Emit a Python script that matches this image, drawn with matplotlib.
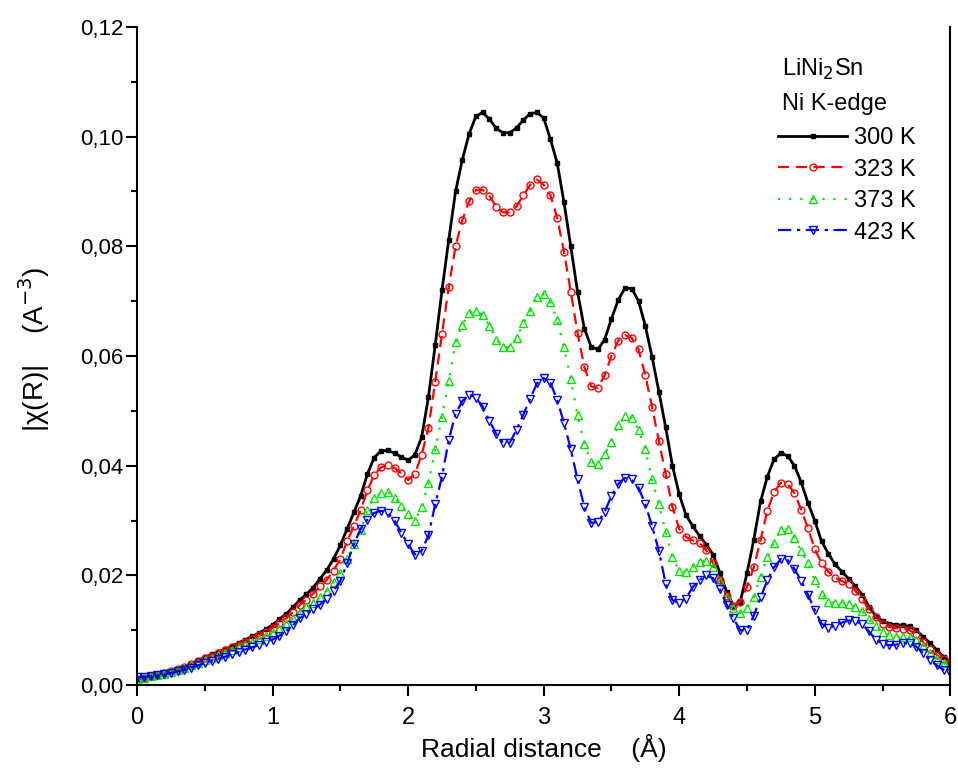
import numpy as np
import matplotlib
matplotlib.use("Agg")
import matplotlib.pyplot as plt
from matplotlib.ticker import MultipleLocator, FuncFormatter

# radial distance grid (Angstrom), one point every 0.05
r = np.round(np.arange(0, 6.001, 0.05), 2)

chi_300 = [0.0012, 0.0014, 0.0017, 0.0019, 0.0022, 0.0025, 0.0029, 0.0034, 0.0039, 0.0045,
           0.0051, 0.0056, 0.0061, 0.0066, 0.0071, 0.0077, 0.0083, 0.0089, 0.0095, 0.0102,
           0.0110, 0.0120, 0.0130, 0.0142, 0.0155, 0.0166, 0.0178, 0.0194, 0.0210, 0.0230,
           0.0255, 0.0285, 0.0315, 0.0345, 0.0385, 0.0415, 0.0427, 0.0428, 0.0423, 0.0416,
           0.0410, 0.0420, 0.0452, 0.0525, 0.0620, 0.0720, 0.0812, 0.0900, 0.0958, 0.1005,
           0.1037, 0.1044, 0.1032, 0.1015, 0.1007, 0.1007, 0.1016, 0.1030, 0.1042, 0.1044,
           0.1034, 0.0995, 0.0952, 0.0880, 0.0800, 0.0717, 0.0650, 0.0617, 0.0612, 0.0630,
           0.0668, 0.0702, 0.0724, 0.0723, 0.0700, 0.0655, 0.0598, 0.0535, 0.0470, 0.0400,
           0.0348, 0.0310, 0.0290, 0.0272, 0.0256, 0.0238, 0.0205, 0.0170, 0.0145, 0.0152,
           0.0204, 0.0265, 0.0335, 0.0380, 0.0412, 0.0423, 0.0418, 0.0400, 0.0370, 0.0332,
           0.0300, 0.0262, 0.0240, 0.0220, 0.0207, 0.0194, 0.0180, 0.0165, 0.0143, 0.0126,
           0.0117, 0.0112, 0.0110, 0.0109, 0.0107, 0.0100, 0.0088, 0.0077, 0.0064, 0.0052,
           0.0043]

chi_323 = [0.0010, 0.0013, 0.0016, 0.0019, 0.0022, 0.0025, 0.0029, 0.0033, 0.0038, 0.0044,
           0.0049, 0.0054, 0.0059, 0.0064, 0.0069, 0.0074, 0.0079, 0.0085, 0.0091, 0.0097,
           0.0104, 0.0113, 0.0122, 0.0133, 0.0146, 0.0156, 0.0167, 0.0180, 0.0192, 0.0209,
           0.0230, 0.0262, 0.0290, 0.0319, 0.0355, 0.0383, 0.0397, 0.0401, 0.0396, 0.0386,
           0.0374, 0.0385, 0.0420, 0.0469, 0.0553, 0.0640, 0.0726, 0.0800, 0.0848, 0.0882,
           0.0903, 0.0903, 0.0892, 0.0872, 0.0862, 0.0862, 0.0873, 0.0893, 0.0912, 0.0922,
           0.0912, 0.0893, 0.0852, 0.0790, 0.0717, 0.0642, 0.0580, 0.0545, 0.0542, 0.0565,
           0.0600, 0.0628, 0.0638, 0.0633, 0.0612, 0.0565, 0.0507, 0.0445, 0.0385, 0.0325,
           0.0285, 0.0270, 0.0264, 0.0259, 0.0246, 0.0222, 0.0191, 0.0163, 0.0145, 0.0152,
           0.0179, 0.0215, 0.0264, 0.0318, 0.0352, 0.0369, 0.0367, 0.0350, 0.0320, 0.0286,
           0.0248, 0.0223, 0.0207, 0.0196, 0.0190, 0.0184, 0.0172, 0.0157, 0.0138, 0.0124,
           0.0112, 0.0106, 0.0104, 0.0103, 0.0100, 0.0093, 0.0078, 0.0066, 0.0055, 0.0047,
           0.0040]

chi_373 = [0.0011, 0.0013, 0.0016, 0.0019, 0.0021, 0.0024, 0.0027, 0.0031, 0.0036, 0.0041,
           0.0046, 0.0050, 0.0055, 0.0059, 0.0064, 0.0069, 0.0074, 0.0079, 0.0084, 0.0089,
           0.0095, 0.0103, 0.0112, 0.0122, 0.0133, 0.0142, 0.0150, 0.0160, 0.0172, 0.0188,
           0.0205, 0.0230, 0.0257, 0.0283, 0.0320, 0.0342, 0.0350, 0.0352, 0.0342, 0.0327,
           0.0312, 0.0300, 0.0325, 0.0368, 0.0430, 0.0489, 0.0555, 0.0625, 0.0657, 0.0678,
           0.0683, 0.0675, 0.0655, 0.0630, 0.0616, 0.0617, 0.0632, 0.0660, 0.0682, 0.0707,
           0.0713, 0.0698, 0.0666, 0.0616, 0.0558, 0.0492, 0.0440, 0.0407, 0.0403, 0.0422,
           0.0443, 0.0474, 0.0490, 0.0487, 0.0466, 0.0430, 0.0375, 0.0330, 0.0280, 0.0233,
           0.0209, 0.0207, 0.0215, 0.0225, 0.0227, 0.0215, 0.0190, 0.0160, 0.0140, 0.0131,
           0.0140, 0.0160, 0.0198, 0.0233, 0.0260, 0.0283, 0.0284, 0.0268, 0.0245, 0.0222,
           0.0192, 0.0167, 0.0152, 0.0150, 0.0150, 0.0148, 0.0143, 0.0135, 0.0120, 0.0108,
           0.0097, 0.0091, 0.0088, 0.0088, 0.0087, 0.0082, 0.0072, 0.0058, 0.0047, 0.0040,
           0.0035]

chi_423 = [0.0014, 0.0015, 0.0016, 0.0018, 0.0020, 0.0022, 0.0025, 0.0028, 0.0032, 0.0036,
           0.0040, 0.0044, 0.0048, 0.0052, 0.0056, 0.0060, 0.0065, 0.0069, 0.0073, 0.0078,
           0.0083, 0.0090, 0.0098, 0.0109, 0.0122, 0.0130, 0.0138, 0.0147, 0.0157, 0.0172,
           0.0190, 0.0222, 0.0257, 0.0285, 0.0302, 0.0314, 0.0318, 0.0314, 0.0300, 0.0278,
           0.0257, 0.0238, 0.0245, 0.0273, 0.0330, 0.0380, 0.0447, 0.0495, 0.0518, 0.0529,
           0.0524, 0.0508, 0.0482, 0.0458, 0.0442, 0.0442, 0.0466, 0.0493, 0.0522, 0.0550,
           0.0560, 0.0551, 0.0520, 0.0478, 0.0430, 0.0375, 0.0325, 0.0296, 0.0297, 0.0316,
           0.0345, 0.0367, 0.0378, 0.0375, 0.0360, 0.0330, 0.0290, 0.0245, 0.0185, 0.0155,
           0.0150, 0.0158, 0.0179, 0.0192, 0.0200, 0.0195, 0.0175, 0.0147, 0.0122, 0.0100,
           0.0100, 0.0127, 0.0160, 0.0191, 0.0215, 0.0230, 0.0228, 0.0212, 0.0190, 0.0165,
           0.0137, 0.0112, 0.0105, 0.0108, 0.0114, 0.0118, 0.0117, 0.0111, 0.0098, 0.0083,
           0.0075, 0.0073, 0.0074, 0.0077, 0.0076, 0.0070, 0.0058, 0.0046, 0.0036, 0.0028,
           0.0022]

labels = ["300 K", "323 K", "373 K", "423 K"]

plt.rcParams['font.family'] = ['Liberation Sans', 'DejaVu Sans']

fig = plt.figure(figsize=(9.58, 7.69), dpi=100)
ax = fig.add_axes([0.143, 0.109, 0.849, 0.856])

ax.plot(r, chi_300, color='black', lw=2.0, ls='-', marker='s', ms=3,
        mfc='black', mec='black', label=labels[0])
ax.plot(r, chi_323, color='red', lw=1.6, ls=(0, (5, 3)), marker='o', ms=5,
        mfc='none', mec='red', mew=1.0, label=labels[1])
ax.plot(r, chi_373, color='#00e800', lw=1.6, ls=(0, (1, 4)), marker='^', ms=5.5,
        mfc='none', mec='#00e800', mew=1.0, label=labels[2])
ax.plot(r, chi_423, color='blue', lw=1.6, ls=(0, (6, 2.5, 1.5, 2.5)), marker='v', ms=5.5,
        mfc='none', mec='blue', mew=1.0, label=labels[3])

ax.set_xlim(0, 6)
ax.set_ylim(0, 0.12)
ax.xaxis.set_major_locator(MultipleLocator(1))
ax.xaxis.set_minor_locator(MultipleLocator(0.5))
ax.yaxis.set_major_locator(MultipleLocator(0.02))
ax.yaxis.set_minor_locator(MultipleLocator(0.01))
ax.yaxis.set_major_formatter(FuncFormatter(lambda v, p: f"{v:.2f}".replace('.', ',')))

ax.spines['top'].set_visible(False)
for s in ('left', 'bottom', 'right'):
    ax.spines[s].set_linewidth(1.5)
ax.tick_params(which='major', direction='out', length=8, width=1.5, right=False, top=False)
ax.tick_params(which='minor', direction='out', length=4, width=1.5, right=False, top=False)
ax.tick_params(axis='y', labelsize=16, pad=2)
ax.tick_params(axis='x', labelsize=17, pad=8)

ax.set_xlabel("Radial distance    (Å)", fontsize=19, labelpad=3)
ax.set_ylabel("|χ(R)|    (A$^{-3}$)", fontsize=20)
ax.yaxis.set_label_coords(-0.105, 0.51)

ax.text(0.793, 0.925, "LiNi$_2$Sn", transform=ax.transAxes, fontsize=17)
ax.text(0.793, 0.874, "Ni K-edge", transform=ax.transAxes, fontsize=17)
ax.legend(loc='upper left', bbox_to_anchor=(0.777, 0.862), frameon=False,
          fontsize=17, numpoints=1, handlelength=2.9, handletextpad=0.3,
          labelspacing=0.4, borderaxespad=0)

fig.savefig("out.png", dpi=100)
